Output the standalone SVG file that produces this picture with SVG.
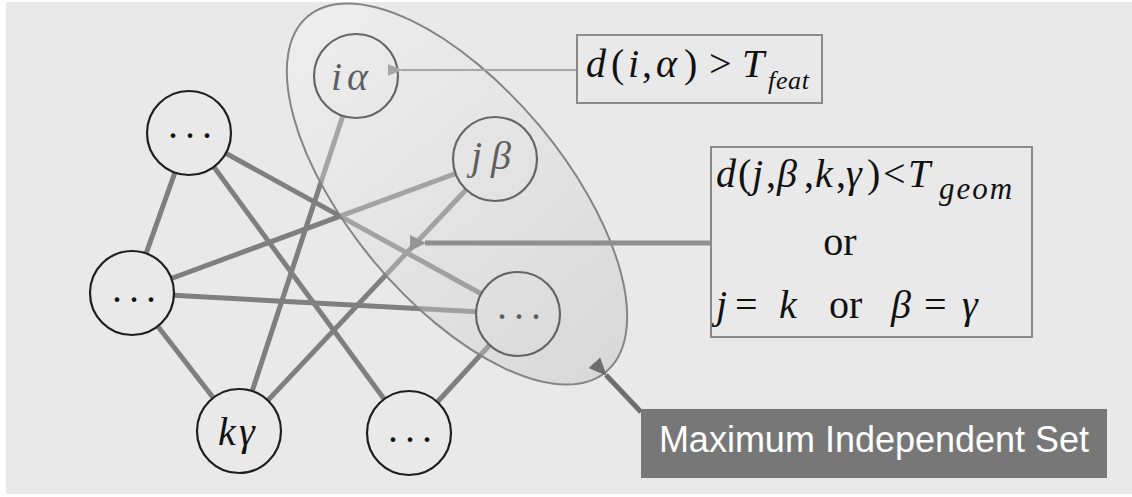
<svg xmlns="http://www.w3.org/2000/svg" width="1132" height="497" viewBox="0 0 1132 497">
<style>
.edge{stroke:#7f7f7f;stroke-width:5;stroke-linecap:butt}
.node{fill:#e9e9e9;stroke:#1e1e1e;stroke-width:2.2}
.m{font-family:"Liberation Serif","Times New Roman",serif;fill:#111}
.it{font-style:italic}
.dots{font-family:"Liberation Serif",serif;font-size:40px;letter-spacing:7px;fill:#111}
.box{fill:none;stroke:#8a8a8a;stroke-width:2}
</style>
<defs>
<linearGradient id="ovl" x1="0" y1="0" x2="1" y2="0">
<stop offset="0" stop-color="#f4f4f4" stop-opacity="0.34"/>
<stop offset="1" stop-color="#c2c2c2" stop-opacity="0.42"/>
</linearGradient>
<marker id="ahLight" viewBox="0 0 14 12" refX="1" refY="6" markerWidth="14" markerHeight="12" markerUnits="userSpaceOnUse" orient="auto">
<path d="M14,0 L0,6 L14,12 Z" fill="#a6a6a6"/>
</marker>
<marker id="ahMid" viewBox="0 0 16 16" refX="1" refY="8" markerWidth="16" markerHeight="16" markerUnits="userSpaceOnUse" orient="auto">
<path d="M16,0 L0,8 L16,16 Z" fill="#959595"/>
</marker>
<marker id="ahDark" viewBox="0 0 18 16" refX="1" refY="8" markerWidth="18" markerHeight="16" markerUnits="userSpaceOnUse" orient="auto">
<path d="M18,0 L0,8 L18,16 Z" fill="#6e6e6e"/>
</marker>
</defs>
<rect x="0" y="0" width="1132" height="497" fill="#ffffff"/>
<rect x="6" y="2" width="1126" height="492" fill="#e9e9e9"/>

<g id="connectors">
<line class="edge" x1="189" y1="133" x2="132" y2="293"/>
<line class="edge" x1="189" y1="133" x2="409" y2="433"/>
<line class="edge" x1="189" y1="133" x2="518" y2="314"/>
<line class="edge" x1="132" y1="293" x2="495" y2="159"/>
<line class="edge" x1="132" y1="293" x2="518" y2="314"/>
<line class="edge" x1="132" y1="293" x2="239" y2="431"/>
<line class="edge" x1="239" y1="431" x2="356" y2="76"/>
<line class="edge" x1="239" y1="431" x2="495" y2="159"/>
<line class="edge" x1="409" y1="433" x2="518" y2="314"/>
</g>

<g id="node-tl">
<circle class="node" cx="189" cy="133" r="42"/>
<text class="dots" x="168" y="138">...</text>
</g>
<g id="node-left">
<circle class="node" cx="132" cy="293" r="42"/>
<text class="dots" x="112" y="302">...</text>
</g>
<g id="node-k">
<circle class="node" cx="239" cy="431" r="42"/>
<text class="m it" font-size="40" y="445"><tspan x="218">k</tspan><tspan x="239">γ</tspan></text>
</g>
<g id="node-bottom">
<circle class="node" cx="409" cy="433" r="42"/>
<text class="dots" x="388" y="442">...</text>
</g>
<g id="node-i">
<circle class="node" cx="356" cy="76" r="42"/>
<text class="m it" font-size="40" y="90"><tspan x="331">i</tspan><tspan x="347">α</tspan></text>
</g>
<g id="node-j">
<circle class="node" cx="495" cy="159" r="42"/>
<text class="m it" font-size="40" y="169"><tspan x="471">j</tspan><tspan x="491">β</tspan></text>
</g>
<g id="node-right">
<circle class="node" cx="518" cy="314" r="42"/>
<text class="dots" x="497" y="319">...</text>
</g>

<g id="mis-region">
<ellipse cx="457" cy="194" rx="232" ry="107" transform="rotate(50 457 194)" fill="url(#ovl)" stroke="#858585" stroke-width="2"/>
</g>

<g id="arrows">
<line x1="577" y1="70" x2="401" y2="70" stroke="#a6a6a6" stroke-width="2" marker-end="url(#ahLight)"/>
<line x1="711" y1="243" x2="425" y2="243" stroke="#8f8f8f" stroke-width="5" marker-end="url(#ahMid)"/>
<line x1="641" y1="412" x2="606" y2="375" stroke="#6e6e6e" stroke-width="5" marker-end="url(#ahDark)"/>
</g>

<g id="cond-feat">
<rect class="box" x="577" y="35" width="245" height="68"/>
<text class="m" font-size="40" y="77"><tspan class="it" x="586">d</tspan><tspan x="611">(</tspan><tspan class="it" x="628">i</tspan><tspan x="642">,</tspan><tspan class="it" x="656">α</tspan><tspan x="684">)</tspan><tspan x="709">&gt;</tspan><tspan class="it" x="742">T</tspan><tspan class="it" font-size="26" x="768" y="89" textLength="41" lengthAdjust="spacing">feat</tspan></text>
</g>

<g id="cond-geom">
<rect class="box" x="711" y="147" width="321" height="190"/>
<text class="m" font-size="40" y="187"><tspan class="it" x="716">d</tspan><tspan x="738">(</tspan><tspan class="it" x="752">j</tspan><tspan x="766">,</tspan><tspan class="it" x="777">β</tspan><tspan x="804">,</tspan><tspan class="it" x="815">k</tspan><tspan x="836">,</tspan><tspan class="it" x="846">γ</tspan><tspan x="867">)</tspan><tspan x="883">&lt;</tspan><tspan class="it" x="908">T</tspan><tspan class="it" font-size="31" x="939" y="199" letter-spacing="2">geom</tspan></text>
<text class="m" font-size="40" x="840" y="255" text-anchor="middle">or</text>
<text class="m" font-size="40" y="318"><tspan class="it" x="716">j</tspan><tspan x="735">=</tspan><tspan class="it" x="779">k</tspan><tspan x="829">or</tspan><tspan class="it" x="891">β</tspan><tspan x="924">=</tspan><tspan class="it" x="962">γ</tspan></text>
</g>

<g id="mis-label">
<rect x="641" y="409" width="466" height="69" fill="#777777"/>
<text x="874" y="452" text-anchor="middle" font-family="'Liberation Sans',Arial,sans-serif" font-size="36" fill="#ffffff">Maximum Independent Set</text>
</g>
</svg>
